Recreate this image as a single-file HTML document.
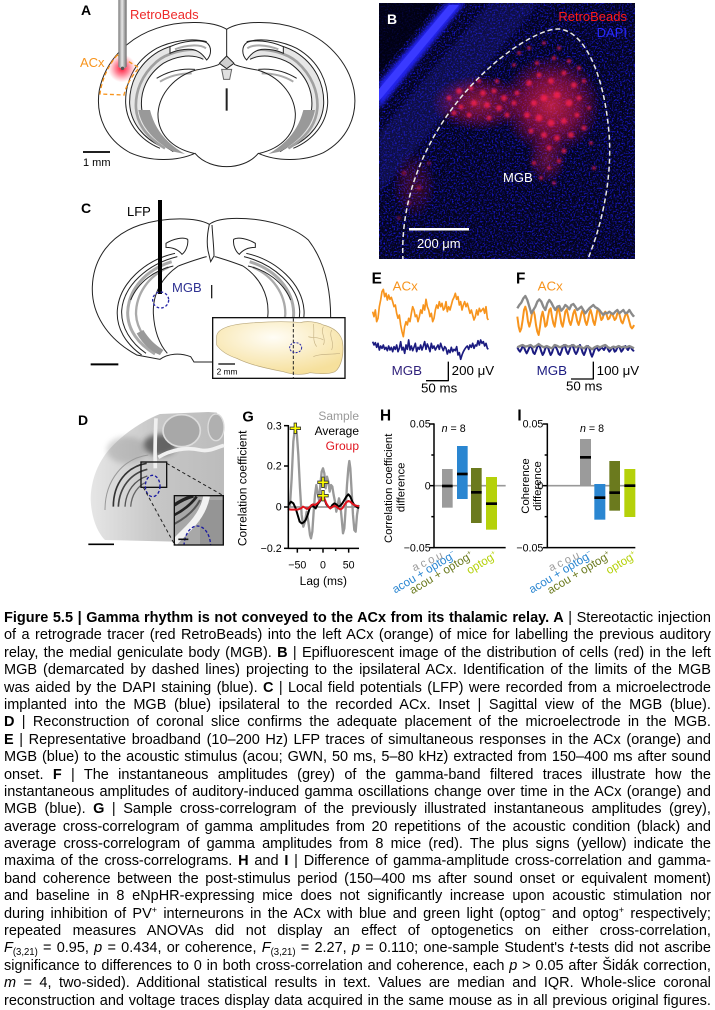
<!DOCTYPE html>
<html><head><meta charset="utf-8">
<style>
html,body{margin:0;padding:0;background:#fff;}
body{width:715px;height:1010px;overflow:hidden;position:relative;font-family:"Liberation Sans",Arial,sans-serif;}
svg{position:absolute;left:0;top:0;}
#cap{position:absolute;left:4px;top:609px;width:741px;transform:scaleX(0.954);transform-origin:0 0;font-size:15.2px;color:#000;}
#cap div{height:17.4px;line-height:17.4px;text-align:justify;text-align-last:justify;white-space:nowrap;}
.sp{font-size:9.5px;position:relative;top:-5px;line-height:0;}
.sb{font-size:10px;position:relative;top:3px;line-height:0;}
</style></head><body>
<svg width="715" height="600" viewBox="0 0 715 600" font-family="'Liberation Sans', Arial, sans-serif">
<defs>
 <linearGradient id="elec" x1="0" x2="1" y1="0" y2="0"><stop offset="0" stop-color="#777"/><stop offset="0.45" stop-color="#e8e8e8"/><stop offset="1" stop-color="#6a6a6a"/></linearGradient>
 <radialGradient id="glow"><stop offset="0" stop-color="#ff1030" stop-opacity="1"/><stop offset="0.5" stop-color="#ff3050" stop-opacity="0.55"/><stop offset="1" stop-color="#ff6070" stop-opacity="0"/></radialGradient>
 <radialGradient id="red1"><stop offset="0" stop-color="#ff2a4a" stop-opacity="0.9"/><stop offset="0.55" stop-color="#f01848" stop-opacity="0.55"/><stop offset="1" stop-color="#e01040" stop-opacity="0"/></radialGradient>
 <radialGradient id="sag" cx="0.45" cy="0.3" r="0.7"><stop offset="0" stop-color="#fffdf6"/><stop offset="1" stop-color="#f6e09c"/></radialGradient>
 <linearGradient id="dg" x1="0" x2="1" y1="0" y2="0"><stop offset="0" stop-color="#e6e6e6"/><stop offset="0.5" stop-color="#c6c6c6"/><stop offset="1" stop-color="#bcbcbc"/></linearGradient>
 <filter id="nz" x="0" y="0" width="100%" height="100%" color-interpolation-filters="sRGB"><feTurbulence type="fractalNoise" baseFrequency="0.6" numOctaves="2" seed="5"/><feColorMatrix type="matrix" values="0 0 0 0 0.1  0 0 0 0 0.1  0 0 0 0 0.9  3 0 0 0 -1.42"/></filter>
 <filter id="bl" x="-50%" y="-50%" width="200%" height="200%"><feGaussianBlur stdDeviation="8"/></filter>
 <filter id="bl2" x="-50%" y="-50%" width="200%" height="200%"><feGaussianBlur stdDeviation="2"/></filter>
 <filter id="bl1" x="-20%" y="-20%" width="140%" height="140%"><feGaussianBlur stdDeviation="1"/></filter>
 <clipPath id="bclip"><rect x="0" y="0" width="256" height="256"/></clipPath>
 <clipPath id="dclip"><rect x="343" y="287" width="147" height="148"/></clipPath>
 <clipPath id="cclip"><rect x="458" y="383" width="397" height="182"/></clipPath>
</defs>

<!-- ============ PANEL A ============ -->
<g transform="translate(60,0) scale(0.33333)" fill="none" stroke="#222" stroke-width="3">
 <path d="M 500,88 C 460,62 360,60 290,85 C 200,115 135,185 118,270 C 105,350 140,420 210,458 C 270,485 350,485 405,460 C 430,490 470,500 500,500 C 530,500 570,490 595,460 C 650,485 730,485 790,458 C 860,420 895,350 882,270 C 865,185 800,115 710,85 C 640,60 540,62 500,88 Z" fill="#fff"/>
 <g id="hippoA">
  <path d="M 437,133 C 385,122 330,135 295,155 C 232,193 207,255 209,312 C 212,368 250,415 305,440 L 340,455 C 290,425 250,380 245,325 C 240,275 260,225 310,190 C 340,172 390,158 430,178 Z" fill="#e6e6e6" stroke="none"/>
  <path d="M 440,125 C 390,112 330,125 290,145 C 220,185 195,250 197,310 C 200,370 240,420 300,445"/>
  <path d="M 437,133 C 385,122 330,135 295,155 C 232,193 207,255 209,312 C 212,368 250,415 305,440"/>
  <path d="M 430,178 C 390,158 340,172 310,190 C 260,225 240,275 245,325 C 250,380 290,425 340,455"/>
  <path d="M 420,150 C 370,145 320,160 290,185 C 245,225 225,275 228,325 C 232,375 265,415 315,445" stroke="#a0a0a0" stroke-width="8"/>
  <path d="M 235,330 C 245,385 285,425 340,455 L 375,462 C 320,430 285,390 270,330 Z" fill="#999" stroke="none"/>
  <path d="M 330,140 C 370,122 420,118 440,128 C 456,140 455,165 440,180 C 430,165 415,150 395,148 C 370,146 345,152 330,160 Z" fill="#fff"/>
  <path d="M 345,148 C 380,134 420,132 438,145" stroke="#aaa" stroke-width="6"/>
  <path d="M 290,235 C 330,210 370,205 405,208"/>
  <path d="M 300,245 C 330,226 365,220 395,220" stroke="#aaa" stroke-width="6"/>
  <path d="M 408,210 C 345,228 298,280 294,340 C 292,400 335,445 402,460"/>
  <path d="M 408,210 C 440,205 462,200 478,193"/>
 </g>
 <use href="#hippoA" transform="translate(1000,0) scale(-1,1)"/>
 <path d="M 500,88 L 500,168"/>
 <polygon points="500,168 522,190 500,206 478,190" fill="#d0d0d0"/>
 <polygon points="485,208 515,208 509,238 491,238" fill="#e0e0e0" stroke="#666"/>
 <path d="M 500,265 L 500,332" stroke-width="6"/>
 <circle cx="186" cy="205" r="42" fill="url(#glow)" stroke="none"/>
 <path d="M 172,165 L 237,203 C 215,230 198,255 192,285 L 120,282 C 125,240 145,195 172,165 Z" stroke="#f7941d" stroke-width="4" stroke-dasharray="12,8"/>
 <path d="M 175,0 L 200,0 L 200,200 Q 187.5,212 175,200 Z" fill="url(#elec)" stroke="none"/>
 <circle cx="187.5" cy="205" r="5" fill="#555" stroke="none"/>
</g>
<text x="81" y="15" font-size="14" font-weight="bold">A</text>
<text x="130" y="19" font-size="13" fill="#ee2a2a">RetroBeads</text>
<text x="80" y="67" font-size="13" fill="#f7941d">ACx</text>
<line x1="83" y1="152" x2="110" y2="152" stroke="#000" stroke-width="1.7"/>
<text x="83" y="166" font-size="11">1 mm</text>

<!-- ============ PANEL B ============ -->
<g transform="translate(379,3)" clip-path="url(#bclip)">
 <rect x="0" y="0" width="256" height="256" fill="#04041a"/>
 <rect x="0" y="0" width="256" height="256" filter="url(#nz)"/>
 <path d="M 0,130 L 110,0 L 160,0 L 0,190 Z" fill="#2828a0" opacity="0.3" filter="url(#bl2)"/>
 <path d="M 0,0 L 60,0 L 0,70 Z" fill="#000010" opacity="0.75"/>
 <path d="M 0,80 L 68,0 L 86,0 L 0,106 Z" fill="#2222f0" filter="url(#bl2)"/>
 <path d="M 0,86 L 70,2 L 80,2 L 0,98 Z" fill="#3a3aff"/>
 <ellipse cx="172" cy="102" rx="50" ry="50" fill="url(#red1)" opacity="0.8"/>
 <ellipse cx="100" cy="100" rx="48" ry="28" fill="url(#red1)" opacity="0.6"/>
 <ellipse cx="168" cy="155" rx="20" ry="26" fill="url(#red1)" opacity="0.4"/>
 <ellipse cx="35" cy="182" rx="22" ry="34" fill="url(#red1)" opacity="0.25"/>
 <g fill="#ff2050" opacity="0.75" filter="url(#bl1)">
  <circle cx="150" cy="80" r="3"/><circle cx="160" cy="72" r="2.5"/><circle cx="172" cy="78" r="3"/><circle cx="185" cy="70" r="2.5"/><circle cx="195" cy="82" r="3"/><circle cx="200" cy="95" r="2.5"/><circle cx="190" cy="100" r="3.5"/><circle cx="178" cy="92" r="3.5"/><circle cx="165" cy="95" r="3.5"/><circle cx="155" cy="100" r="3"/><circle cx="148" cy="112" r="3"/><circle cx="160" cy="115" r="3.5"/><circle cx="172" cy="120" r="3.5"/><circle cx="185" cy="118" r="3"/><circle cx="198" cy="112" r="2.5"/><circle cx="205" cy="125" r="2.5"/><circle cx="192" cy="132" r="3"/><circle cx="178" cy="135" r="3"/><circle cx="165" cy="132" r="3"/><circle cx="152" cy="128" r="2.5"/><circle cx="170" cy="145" r="2.5"/><circle cx="185" cy="148" r="2.5"/><circle cx="158" cy="60" r="2"/><circle cx="175" cy="55" r="2"/><circle cx="190" cy="58" r="2"/><circle cx="200" cy="65" r="2"/><circle cx="205" cy="78" r="2"/>
  <circle cx="70" cy="95" r="2.5"/><circle cx="80" cy="88" r="3"/><circle cx="92" cy="85" r="2.5"/><circle cx="104" cy="90" r="3"/><circle cx="115" cy="88" r="2.5"/><circle cx="125" cy="95" r="3"/><circle cx="135" cy="100" r="2.5"/><circle cx="120" cy="105" r="3"/><circle cx="108" cy="102" r="3"/><circle cx="95" cy="100" r="3"/><circle cx="82" cy="104" r="2.5"/><circle cx="75" cy="110" r="2.5"/><circle cx="90" cy="112" r="2.5"/><circle cx="110" cy="115" r="2.5"/><circle cx="128" cy="112" r="2.5"/><circle cx="138" cy="90" r="2.5"/><circle cx="100" cy="78" r="2"/><circle cx="118" cy="78" r="2"/>
  <circle cx="140" cy="50" r="1.8"/><circle cx="150" cy="45" r="1.8"/><circle cx="165" cy="40" r="1.8"/><circle cx="180" cy="45" r="1.8"/><circle cx="135" cy="62" r="1.8"/>
  <circle cx="155" cy="160" r="2"/><circle cx="170" cy="165" r="1.8"/><circle cx="180" cy="158" r="2"/><circle cx="162" cy="175" r="1.8"/><circle cx="175" cy="180" r="1.8"/>
  <circle cx="210" cy="105" r="1.8"/><circle cx="212" cy="140" r="1.8"/><circle cx="215" cy="165" r="1.8"/>
  <g opacity="0.5"><circle cx="25" cy="170" r="2.5"/><circle cx="40" cy="185" r="2.5"/><circle cx="30" cy="200" r="2"/><circle cx="50" cy="160" r="2"/><circle cx="20" cy="215" r="2"/></g>
 </g>
 <path d="M 24,258 C 20,180 60,110 110,65 C 140,38 168,25 180,26 C 205,28 225,70 230,130 C 234,180 220,230 208,258" fill="none" stroke="#e8e8e8" stroke-width="1.5" stroke-dasharray="5,3"/>
</g>
<text x="387" y="24" font-size="14" font-weight="bold" fill="#fff">B</text>
<text x="627" y="21" font-size="13" fill="#ff1a1a" text-anchor="end">RetroBeads</text>
<text x="627" y="37" font-size="13" fill="#2a2aff" text-anchor="end">DAPI</text>
<text x="503" y="182" font-size="13" fill="#fff">MGB</text>
<rect x="409" y="228" width="60" height="2.5" fill="#fff"/>
<text x="417" y="248" font-size="13" fill="#fff">200 μm</text>

<!-- ============ PANEL C ============ -->
<g transform="translate(60,190) scale(0.33333)" fill="none" stroke="#222" stroke-width="3">
 <path d="M 448,103 C 410,82 320,80 240,105 C 150,135 100,205 97,290 C 94,370 140,445 230,495 L 300,508 C 325,490 360,488 392,500 L 402,516 L 458,516 L 812,383 C 812,300 795,215 745,150 C 700,110 620,85 530,85 C 490,85 462,92 448,103 Z" fill="#fff"/>
 <path d="M 448,103 C 442,130 440,160 444,182 L 452,215 L 462,198 C 462,175 458,140 456,105"/>
 <g id="hippoC">
  <path d="M 318,160 C 340,146 370,140 383,148 C 386,166 376,186 366,193 C 356,180 340,172 318,172 Z" fill="#fff"/>
  <path d="M 345,190 C 255,210 178,280 172,360 C 168,415 198,462 245,495"/>
  <path d="M 352,200 C 262,222 190,288 185,362 C 183,412 212,458 258,490"/>
  <path d="M 335,215 C 255,240 205,300 203,368 C 203,420 235,462 285,492" stroke="#aaa" stroke-width="9"/>
  <path d="M 325,232 C 265,258 228,312 228,372 C 230,420 262,458 302,482" stroke="#aaa" stroke-width="7"/>
  <path d="M 212,330 C 235,275 285,240 340,228"/>
  <path d="M 355,228 C 305,262 278,312 280,370 C 283,425 300,465 322,490"/>
  <path d="M 355,228 C 390,215 420,205 440,200"/>
  <path d="M 230,430 C 250,465 275,485 300,495 L 310,480 C 285,465 265,445 250,420 Z" fill="#999" stroke="none"/>
 </g>
 <use href="#hippoC" transform="translate(904,0) scale(-1,1)"/>
 <line x1="455" y1="285" x2="455" y2="325" stroke-width="4"/>
 <line x1="300" y1="30" x2="300" y2="312" stroke="#000" stroke-width="12"/>
 <circle cx="302" cy="330" r="24" stroke="#2a2aa8" stroke-width="4" stroke-dasharray="8,6"/>
 <line x1="92" y1="523" x2="175" y2="523" stroke="#000" stroke-width="6"/>
 <rect x="458" y="383" width="397" height="182" fill="#fff" stroke="#111" stroke-width="4"/>
 <g clip-path="url(#cclip)">
  <path d="M 470,440 C 470,420 500,405 560,400 C 620,395 680,393 720,398 C 740,392 770,395 790,405 C 820,412 845,430 848,460 C 852,490 845,530 825,545 C 800,555 770,550 750,548 C 730,555 700,555 670,545 C 620,535 570,525 530,505 C 500,495 480,480 470,465 Z" fill="url(#sag)" stroke="#b9a77a" stroke-width="2"/>
  <path d="M 760,402 C 765,430 755,450 770,470 M 790,410 C 780,430 800,445 790,465 M 815,420 C 805,440 825,455 815,480 M 760,500 C 780,490 810,495 840,490 M 745,440 C 760,445 775,440 790,450" stroke="#c8b587" stroke-width="2"/>
  <line x1="700" y1="385" x2="700" y2="565" stroke="#222" stroke-width="3" stroke-dasharray="10,6"/>
  <ellipse cx="707" cy="473" rx="18" ry="15" stroke="#2a2aa8" stroke-width="3" stroke-dasharray="6,4"/>
  <line x1="475" y1="522" x2="525" y2="522" stroke="#000" stroke-width="4"/>
  <text x="470" y="553" font-size="25" fill="#000" stroke="none">2 mm</text>
 </g>
</g>
<text x="81" y="213" font-size="14" font-weight="bold">C</text>
<text x="127" y="216" font-size="13">LFP</text>
<text x="172" y="292" font-size="13" fill="#2e3192">MGB</text>

<!-- ============ PANEL D ============ -->
<g transform="translate(60,400) scale(0.33333)">
 <path d="M 92,300 C 92,240 115,180 160,135 C 200,95 250,62 300,42 L 445,36 L 470,38 L 492,72 L 492,288 L 343,288 L 343,425 L 135,420 C 115,400 95,360 92,300 Z" fill="url(#dg)"/>
 <ellipse cx="300" cy="135" rx="50" ry="32" fill="#3a3a3a" opacity="0.7" filter="url(#bl)"/>
 <ellipse cx="200" cy="150" rx="60" ry="40" fill="#888" opacity="0.35" filter="url(#bl)"/>
 <ellipse cx="365" cy="92" rx="56" ry="48" fill="#a8a8a8" stroke="#dcdcdc" stroke-width="5"/>
 <ellipse cx="468" cy="82" rx="24" ry="40" fill="#b0b0b0" stroke="#dcdcdc" stroke-width="4"/>
 <path d="M 288,55 C 286,100 284,150 286,205" stroke="#f0f0f0" stroke-width="11" fill="none"/>
 <path d="M 295,172 C 330,150 380,140 420,150 C 450,156 470,142 492,136" stroke="#f0f0f0" stroke-width="11" fill="none"/>
 <g fill="none">
  <path d="M 135,330 C 135,240 190,175 265,165" stroke="#999" stroke-width="3"/>
  <path d="M 160,320 C 160,250 200,200 260,190" stroke="#333" stroke-width="5"/>
  <path d="M 175,320 C 178,262 212,220 262,208" stroke="#444" stroke-width="5"/>
  <path d="M 195,320 C 198,272 225,240 262,228" stroke="#555" stroke-width="4"/>
  <path d="M 212,320 C 215,282 235,258 255,248" stroke="#666" stroke-width="4"/>
 </g>
 <rect x="243" y="186" width="77" height="76" fill="none" stroke="#111" stroke-width="4"/>
 <ellipse cx="278" cy="258" rx="22" ry="32" fill="none" stroke="#1a1aa0" stroke-width="4" stroke-dasharray="9,6"/>
 <line x1="320" y1="190" x2="490" y2="287" stroke="#222" stroke-width="3" stroke-dasharray="10,8"/>
 <line x1="250" y1="262" x2="343" y2="432" stroke="#222" stroke-width="3" stroke-dasharray="10,8"/>
 <g clip-path="url(#dclip)">
  <rect x="343" y="287" width="147" height="148" fill="#a8a8a8"/>
  <rect x="420" y="300" width="70" height="135" fill="#959595"/>
  <path d="M 343,315 C 365,300 385,292 400,288" stroke="#222" stroke-width="10" fill="none"/>
  <path d="M 343,345 C 372,330 395,310 410,290" stroke="#222" stroke-width="8" fill="none"/>
  <path d="M 343,372 C 380,352 405,330 420,300" stroke="#555" stroke-width="6" fill="none"/>
  <path d="M 440,288 C 432,330 410,362 372,398 C 360,410 350,420 343,428" stroke="#f2f2f2" stroke-width="20" fill="none"/>
  <ellipse cx="412" cy="440" rx="40" ry="62" fill="none" stroke="#1a1aa0" stroke-width="4" stroke-dasharray="9,6"/>
  <line x1="355" y1="418" x2="385" y2="418" stroke="#111" stroke-width="5"/>
 </g>
 <rect x="343" y="287" width="147" height="148" fill="none" stroke="#111" stroke-width="4"/>
 <line x1="85" y1="433" x2="162" y2="433" stroke="#000" stroke-width="5"/>
</g>
<text x="78" y="425" font-size="14" font-weight="bold">D</text>

<!-- ============ PANELS E, F ============ -->
<g transform="translate(360,260) scale(0.33333)" fill="none" stroke-linejoin="round">
 <polyline stroke="#f7941d" stroke-width="5" points="38,155 42,170 46,150 50,185 54,175 58,140 62,120 66,95 70,88 74,110 78,100 82,120 86,105 90,118 94,112 98,125 102,140 106,135 110,160 114,175 118,165 122,195 126,215 130,230 134,200 138,185 142,195 146,175 150,185 154,160 158,140 162,150 166,170 170,165 174,185 178,170 182,150 186,160 190,135 194,150 198,118 202,140 206,150 210,170 214,160 218,185 222,175 226,150 230,135 234,145 238,125 242,140 246,130 250,150 254,145 258,125 262,155 266,140 270,150 274,135 278,120 282,112 286,100 290,118 294,110 298,135 302,125 306,150 310,135 314,125 318,140 322,130 326,145 330,160 334,150 338,165 342,180 346,170 350,150 354,165 358,145 362,155 366,150 370,145 374,160 378,140 382,175 385,180"/>
 <polyline stroke="#1b1b80" stroke-width="5" points="38,245 42,255 46,248 50,262 54,250 58,270 62,258 66,265 70,255 74,268 78,262 82,272 86,258 90,270 94,262 98,275 102,260 106,268 110,255 114,275 118,265 122,245 126,270 130,262 134,280 138,255 142,268 146,240 150,270 154,258 158,272 162,262 166,250 170,275 174,262 178,268 182,255 186,270 190,258 194,245 198,268 202,252 206,262 210,275 214,250 218,265 222,258 226,270 230,262 234,255 238,268 242,250 246,262 250,272 254,260 258,265 262,282 266,270 270,278 274,262 278,275 282,268 286,272 290,260 294,285 298,278 302,298 306,285 310,275 314,268 318,262 322,258 326,268 330,255 334,262 338,250 342,265 346,255 350,258 354,242 358,255 362,240 366,250 370,245 374,258 378,250 382,265 385,268"/>
 <polyline stroke="#f7941d" stroke-width="6" points="472,170 476,200 480,215 484,205 488,180 492,150 496,140 500,155 504,185 508,200 512,185 516,160 520,150 524,165 528,195 532,215 536,225 540,200 544,170 548,155 552,175 556,200 560,195 564,170 568,150 572,145 576,170 580,190 584,200 588,175 592,150 596,145 600,165 604,190 608,200 612,180 616,155 620,148 624,165 628,185 632,195 636,180 640,160 644,150 648,165 652,185 656,195 660,180 664,160 668,150 672,165 676,185 680,195 684,180 688,160 692,150 696,165 700,185 704,195 708,175 712,150 716,148 720,165 724,180 728,175 732,160 736,155 740,165 744,178 748,175 752,165 756,160 760,170 764,180 768,175 772,160 776,155 780,170 784,185 788,190 792,178 796,165 800,158 804,170 808,185 812,200 816,205 820,200 822,195"/>
 <polyline stroke="#8a8a8a" stroke-width="7" points="472,145 478,135 484,128 490,115 496,108 502,120 508,140 514,160 520,150 526,140 532,125 538,118 544,125 550,140 556,150 562,130 568,120 574,128 580,140 586,150 592,140 598,138 604,152 610,145 616,135 622,140 628,148 634,135 640,132 646,140 652,150 658,145 664,140 670,150 676,160 682,152 688,145 694,140 700,135 706,142 712,145 718,150 724,158 730,165 736,158 742,160 748,155 754,160 760,162 766,155 772,150 778,160 784,155 790,150 796,160 802,158 808,150 814,160 820,168 822,165"/>
 <polyline stroke="#1b1b80" stroke-width="6" points="472,262 476,270 480,275 484,268 488,258 492,262 496,272 500,280 504,272 508,262 512,258 516,265 520,278 524,282 528,272 532,260 536,255 540,262 544,275 548,285 552,278 556,265 560,258 564,262 568,275 572,285 576,278 580,265 584,255 588,262 592,270 596,282 600,285 604,275 608,262 612,255 616,262 620,275 624,282 628,272 632,260 636,255 640,262 644,275 648,282 652,275 656,262 660,255 664,265 668,278 672,285 676,275 680,262 684,258 688,265 692,280 696,290 700,280 704,268 708,262 712,265 716,272 720,268 724,262 728,265 732,270 736,262 740,258 744,268 748,275 752,270 756,262 760,265 764,275 768,272 772,262 776,258 780,265 784,275 788,270 792,262 796,258 800,265 804,270 808,262 812,260 816,268 820,272 822,270"/>
 <polyline stroke="#8a8a8a" stroke-width="7" points="472,262 480,258 488,255 496,260 504,258 512,255 520,262 528,258 536,252 544,258 552,262 560,258 568,262 576,265 584,255 592,258 600,262 608,258 616,255 624,260 632,258 640,255 648,262 656,258 664,262 672,265 680,258 688,262 696,268 704,262 712,258 720,262 728,258 736,255 744,262 752,265 760,260 768,262 776,258 784,262 792,260 800,262 808,258 816,262 822,265"/>
 <polyline stroke="#000" stroke-width="4" points="198,362 265,362 265,305"/>
 <polyline stroke="#000" stroke-width="4" points="633,357 700,357 700,305"/>
 <g stroke="none" font-size="40">
  <text x="35" y="70" font-size="46" font-weight="bold" fill="#000">E</text>
  <text x="98" y="92" fill="#f7941d">ACx</text>
  <text x="95" y="345" fill="#2e1f7a">MGB</text>
  <text x="275" y="345" fill="#000">200 μV</text>
  <text x="183" y="398" fill="#000">50 ms</text>
  <text x="468" y="70" font-size="46" font-weight="bold" fill="#000">F</text>
  <text x="533" y="92" fill="#f7941d">ACx</text>
  <text x="530" y="345" fill="#1b1b80">MGB</text>
  <text x="710" y="345" fill="#000">100 μV</text>
  <text x="618" y="392" fill="#000">50 ms</text>
 </g>
</g>

<!-- ============ PANEL G ============ -->
<g transform="translate(235,405) scale(0.33333)" fill="none" stroke-linejoin="round">
 <line x1="160" y1="306" x2="372" y2="306" stroke="#777" stroke-width="4"/>
 <polyline stroke="#999" stroke-width="7" points="160,315 165,300 170,220 175,110 180,68 185,80 190,150 195,250 200,330 205,365 210,350 215,320 220,350 225,390 228,400 232,380 236,320 240,270 244,240 248,265 252,285 256,240 260,200 264,190 268,205 272,250 276,215 280,230 284,260 288,240 292,245 296,270 300,290 304,320 308,300 312,280 316,300 320,340 324,385 328,370 332,310 336,240 340,190 343,168 346,190 350,260 354,330 358,375 362,380 366,330 370,305 372,300"/>
 <polyline stroke="#000" stroke-width="6" points="160,300 168,290 175,295 182,310 188,330 194,350 200,355 206,352 212,345 218,330 224,310 230,300 236,305 242,310 248,298 254,290 260,280 264,275 268,282 274,298 280,305 286,310 292,300 298,295 304,298 310,305 316,302 322,295 328,285 334,275 340,268 346,275 352,290 358,300 364,305 372,310"/>
 <polyline stroke="#e0141e" stroke-width="6" points="160,313 170,314 180,314 190,313 198,310 204,305 210,308 216,312 222,308 228,302 234,298 240,300 246,296 252,290 258,283 263,272 268,280 274,295 280,305 286,310 292,306 298,302 304,305 310,310 316,313 322,310 328,300 334,292 340,288 346,290 352,296 358,300 364,302 372,304"/>
 <g stroke="#000" stroke-width="4.5">
  <polyline points="160,60 160,430 372,430"/>
  <line x1="147" y1="62" x2="160" y2="62"/><line x1="147" y1="183" x2="160" y2="183"/><line x1="147" y1="306" x2="160" y2="306"/><line x1="147" y1="430" x2="160" y2="430"/>
  <line x1="187" y1="430" x2="187" y2="443"/><line x1="264" y1="430" x2="264" y2="443"/><line x1="341" y1="430" x2="341" y2="443"/>
  <line x1="225" y1="430" x2="225" y2="438"/><line x1="302" y1="430" x2="302" y2="438"/>
 </g>
 <g stroke-linecap="square">
  <path d="M 181,58 L 181,82 M 169,70 L 193,70 M 264,220 L 264,244 M 252,232 L 276,232 M 264,260 L 264,284 M 252,272 L 276,272" stroke="#333" stroke-width="10"/>
  <path d="M 181,58 L 181,82 M 169,70 L 193,70 M 264,220 L 264,244 M 252,232 L 276,232 M 264,260 L 264,284 M 252,272 L 276,272" stroke="#ffff00" stroke-width="5"/>
 </g>
 <g stroke="none" fill="#000" font-size="32">
  <text x="140" y="73" text-anchor="end">0.3</text>
  <text x="140" y="194" text-anchor="end">0.2</text>
  <text x="140" y="317" text-anchor="end">0</text>
  <text x="140" y="441" text-anchor="end">−0.2</text>
  <text x="187" y="490" text-anchor="middle">−50</text>
  <text x="264" y="490" text-anchor="middle">0</text>
  <text x="341" y="490" text-anchor="middle">50</text>
  <text x="265" y="540" text-anchor="middle" font-size="36">Lag (ms)</text>
  <text transform="translate(34,250) rotate(-90)" text-anchor="middle" font-size="36">Correlation coefficient</text>
  <text x="372" y="45" text-anchor="end" font-size="36" fill="#999">Sample</text>
  <text x="372" y="90" text-anchor="end" font-size="36">Average</text>
  <text x="372" y="135" text-anchor="end" font-size="36"><tspan fill="#e0141e">Group</tspan></text>
  <text x="22" y="50" font-size="44" font-weight="bold">G</text>
 </g>
</g>

<!-- ============ PANELS H, I ============ -->
<g transform="translate(360,400) scale(0.33333)">
 <!-- H -->
 <line x1="222" y1="257" x2="437" y2="257" stroke="#999" stroke-width="5"/>
 <rect x="246" y="207" width="32" height="116" fill="#9b9b9b"/>
 <rect x="291" y="138" width="32" height="159" fill="#2a86d1"/>
 <rect x="333" y="204" width="32" height="165" fill="#6b7a1e"/>
 <rect x="378" y="231" width="33" height="158" fill="#b5d10a"/>
 <rect x="246" y="254" width="32" height="8" fill="#000"/>
 <rect x="291" y="218" width="32" height="8" fill="#000"/>
 <rect x="333" y="273" width="32" height="8" fill="#000"/>
 <rect x="378" y="307" width="33" height="8" fill="#000"/>
 <g stroke="#000" stroke-width="4.5" fill="none">
  <polyline points="222,70 222,443 437,443"/>
  <line x1="209" y1="72" x2="222" y2="72"/><line x1="209" y1="257" x2="222" y2="257"/><line x1="209" y1="443" x2="222" y2="443"/>
  <line x1="214" y1="165" x2="222" y2="165"/><line x1="214" y1="350" x2="222" y2="350"/>
 </g>
 <!-- I -->
 <line x1="562" y1="257" x2="826" y2="257" stroke="#999" stroke-width="5"/>
 <rect x="660" y="117" width="33" height="138" fill="#9b9b9b"/>
 <rect x="703" y="252" width="33" height="107" fill="#2a86d1"/>
 <rect x="748" y="183" width="32" height="149" fill="#6b7a1e"/>
 <rect x="793" y="207" width="33" height="144" fill="#b5d10a"/>
 <rect x="660" y="168" width="33" height="8" fill="#000"/>
 <rect x="703" y="289" width="33" height="8" fill="#000"/>
 <rect x="748" y="274" width="32" height="8" fill="#000"/>
 <rect x="793" y="253" width="33" height="8" fill="#000"/>
 <g stroke="#000" stroke-width="4.5" fill="none">
  <polyline points="562,70 562,443 826,443"/>
  <line x1="549" y1="72" x2="562" y2="72"/><line x1="549" y1="257" x2="562" y2="257"/><line x1="549" y1="443" x2="562" y2="443"/>
  <line x1="554" y1="165" x2="562" y2="165"/><line x1="554" y1="350" x2="562" y2="350"/>
 </g>
 <g font-size="32" fill="#000">
  <text x="60" y="62" font-size="46" font-weight="bold">H</text>
  <text x="212" y="83" text-anchor="end">0.05</text>
  <text x="212" y="268" text-anchor="end">0</text>
  <text x="212" y="454" text-anchor="end">−0.05</text>
  <text x="245" y="96"><tspan font-style="italic">n</tspan> = 8</text>
  <text transform="translate(96,265) rotate(-90)" text-anchor="middle" font-size="34">Correlation coefficient</text>
  <text transform="translate(133,262) rotate(-90)" text-anchor="middle" font-size="34">difference</text>
  <text transform="translate(258,470) rotate(-25)" text-anchor="end" fill="#9b9b9b" font-size="34" letter-spacing="8">acou</text>
  <text transform="translate(290,470) rotate(-31)" text-anchor="end" fill="#2a86d1" font-size="35">acou + optog<tspan font-size="21" dy="-13">−</tspan></text>
  <text transform="translate(342,472) rotate(-31)" text-anchor="end" fill="#6b7a1e" font-size="35">acou + optog<tspan font-size="21" dy="-13">+</tspan></text>
  <text transform="translate(414,472) rotate(-31)" text-anchor="end" fill="#b5d10a" font-size="35">optog<tspan font-size="21" dy="-13">+</tspan></text>

  <text x="472" y="62" font-size="46" font-weight="bold">I</text>
  <text x="550" y="83" text-anchor="end">0.05</text>
  <text x="550" y="268" text-anchor="end">0</text>
  <text x="550" y="454" text-anchor="end">−0.05</text>
  <text x="660" y="96"><tspan font-style="italic">n</tspan> = 8</text>
  <text transform="translate(507,258) rotate(-90)" text-anchor="middle" font-size="34">Coherence</text>
  <text transform="translate(543,258) rotate(-90)" text-anchor="middle" font-size="34">difference</text>
  <text transform="translate(668,470) rotate(-25)" text-anchor="end" fill="#9b9b9b" font-size="34" letter-spacing="8">acou</text>
  <text transform="translate(700,470) rotate(-31)" text-anchor="end" fill="#2a86d1" font-size="35">acou + optog<tspan font-size="21" dy="-13">−</tspan></text>
  <text transform="translate(755,472) rotate(-31)" text-anchor="end" fill="#6b7a1e" font-size="35">acou + optog<tspan font-size="21" dy="-13">+</tspan></text>
  <text transform="translate(832,472) rotate(-31)" text-anchor="end" fill="#b5d10a" font-size="35">optog<tspan font-size="21" dy="-13">+</tspan></text>
 </g>
</g>
</svg>

<div id="cap">
<div><b>Figure 5.5 | Gamma rhythm is not conveyed to the ACx from its thalamic relay. A</b> | Stereotactic injection</div>
<div>of a retrograde tracer (red RetroBeads) into the left ACx (orange) of mice for labelling the previous auditory</div>
<div>relay, the medial geniculate body (MGB). <b>B</b> | Epifluorescent image of the distribution of cells (red) in the left</div>
<div>MGB (demarcated by dashed lines) projecting to the ipsilateral ACx. Identification of the limits of the MGB</div>
<div>was aided by the DAPI staining (blue). <b>C</b> | Local field potentials (LFP) were recorded from a microelectrode</div>
<div>implanted into the MGB (blue) ipsilateral to the recorded ACx. Inset | Sagittal view of the MGB (blue).</div>
<div><b>D</b> | Reconstruction of coronal slice confirms the adequate placement of the microelectrode in the MGB.</div>
<div><b>E</b> | Representative broadband (10–200 Hz) LFP traces of simultaneous responses in the ACx (orange) and</div>
<div>MGB (blue) to the acoustic stimulus (acou; GWN, 50 ms, 5–80 kHz) extracted from 150–400 ms after sound</div>
<div>onset. <b>F</b> | The instantaneous amplitudes (grey) of the gamma-band filtered traces illustrate how the</div>
<div>instantaneous amplitudes of auditory-induced gamma oscillations change over time in the ACx (orange) and</div>
<div>MGB (blue). <b>G</b> | Sample cross-correlogram of the previously illustrated instantaneous amplitudes (grey),</div>
<div>average cross-correlogram of gamma amplitudes from 20 repetitions of the acoustic condition (black) and</div>
<div>average cross-correlogram of gamma amplitudes from 8 mice (red). The plus signs (yellow) indicate the</div>
<div>maxima of the cross-correlograms. <b>H</b> and <b>I</b> | Difference of gamma-amplitude cross-correlation and gamma-</div>
<div>band coherence between the post-stimulus period (150–400 ms after sound onset or equivalent moment)</div>
<div>and baseline in 8 eNpHR-expressing mice does not significantly increase upon acoustic stimulation nor</div>
<div>during inhibition of PV<span class="sp">+</span> interneurons in the ACx with blue and green light (optog<span class="sp">−</span> and optog<span class="sp">+</span> respectively;</div>
<div>repeated measures ANOVAs did not display an effect of optogenetics on either cross-correlation,</div>
<div><i>F</i><span class="sb">(3,21)</span> = 0.95, <i>p</i> = 0.434, or coherence, <i>F</i><span class="sb">(3,21)</span> = 2.27, <i>p</i> = 0.110; one-sample Student's <i>t</i>-tests did not ascribe</div>
<div>significance to differences to 0 in both cross-correlation and coherence, each <i>p</i> &gt; 0.05 after Šidák correction,</div>
<div><i>m</i> = 4, two-sided). Additional statistical results in text. Values are median and IQR. Whole-slice coronal</div>
<div>reconstruction and voltage traces display data acquired in the same mouse as in all previous original figures.</div>
</div>
</body></html>
